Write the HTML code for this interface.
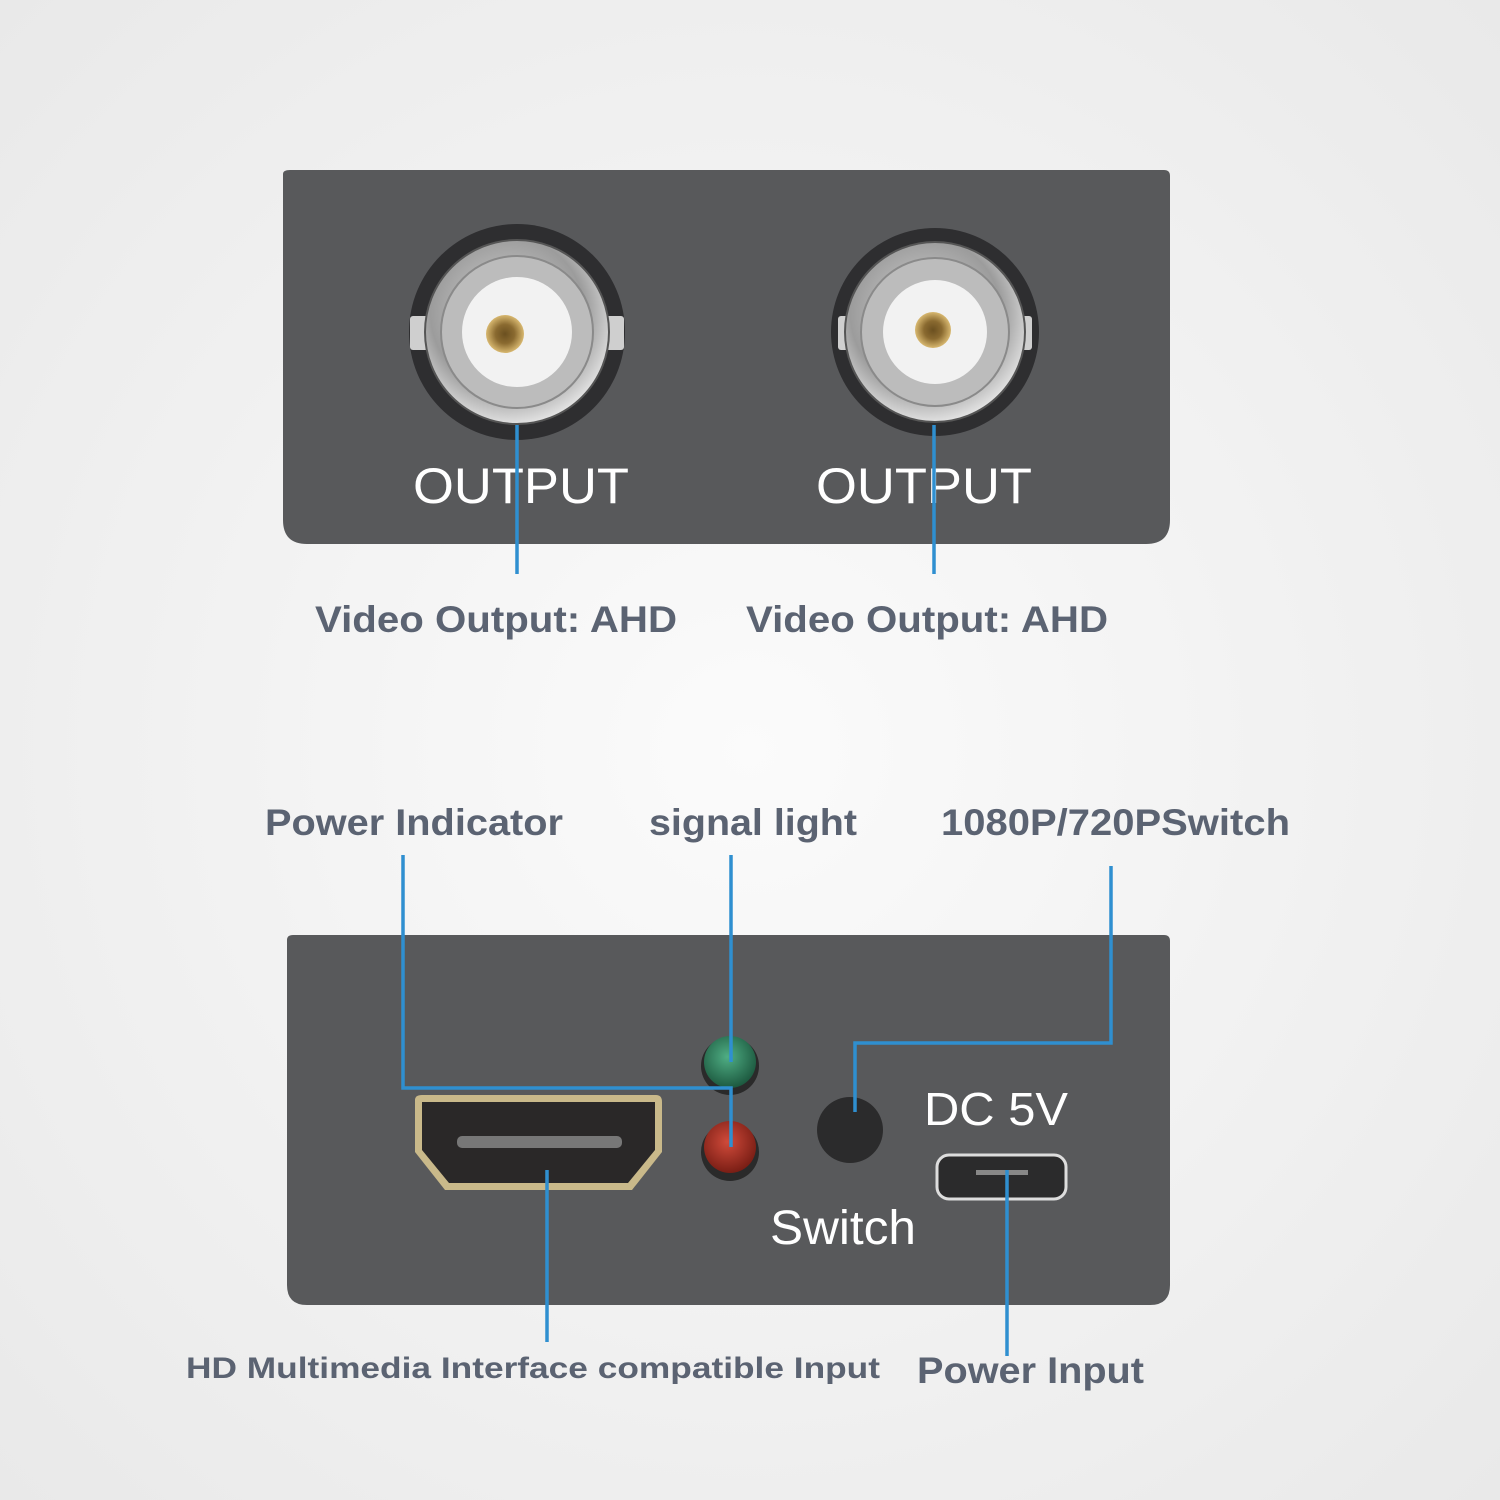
<!DOCTYPE html>
<html><head><meta charset="utf-8"><style>
html,body{margin:0;padding:0;width:1500px;height:1500px;overflow:hidden}
</style></head><body>
<svg width="1500" height="1500" viewBox="0 0 1500 1500" xmlns="http://www.w3.org/2000/svg" font-family="Liberation Sans, sans-serif">
<defs>
<radialGradient id="bg" cx="50%" cy="50%" r="70%"><stop offset="0" stop-color="#fbfbfb"/><stop offset="1" stop-color="#e9e9e9"/></radialGradient>
<radialGradient id="metal" cx="45%" cy="40%" r="60%"><stop offset="0" stop-color="#d8d8d8"/><stop offset="0.7" stop-color="#9c9c9c"/><stop offset="1" stop-color="#e0e0e0"/></radialGradient>
<radialGradient id="gold" cx="50%" cy="50%" r="50%"><stop offset="0" stop-color="#6b5020"/><stop offset="0.5" stop-color="#8a6a30"/><stop offset="1" stop-color="#d8b870"/></radialGradient>
<radialGradient id="grn" cx="45%" cy="40%" r="60%"><stop offset="0" stop-color="#4fae84"/><stop offset="1" stop-color="#1d5a40"/></radialGradient>
<radialGradient id="red" cx="45%" cy="40%" r="60%"><stop offset="0" stop-color="#d04a3a"/><stop offset="1" stop-color="#7a1e15"/></radialGradient>
</defs>
<rect width="1500" height="1500" fill="url(#bg)"/>
<path d="M283 174 Q283 170 290 170 L1164 170 Q1170 170 1170 176 L1170 520 Q1170 544 1146 544 L307 544 Q283 544 283 520 Z" fill="#58595b"/>
<g>
<circle cx="517" cy="332" r="108" fill="#2e2e30"/>
<rect x="410" y="316" width="214" height="34" rx="3" fill="#cfcfcf"/>
<circle cx="517" cy="332" r="92" fill="url(#metal)" stroke="#555" stroke-width="2"/>
<circle cx="517" cy="332" r="76" fill="#bcbcbc" stroke="#8a8a8a" stroke-width="2"/>
<circle cx="517" cy="332" r="55" fill="#f2f2f2"/>
<circle cx="505" cy="334" r="19" fill="url(#gold)"/>
</g>
<g>
<circle cx="935" cy="332" r="104" fill="#2e2e30"/>
<rect x="838" y="316" width="194" height="34" rx="3" fill="#cfcfcf"/>
<circle cx="935" cy="332" r="90" fill="url(#metal)" stroke="#555" stroke-width="2"/>
<circle cx="935" cy="332" r="74" fill="#bcbcbc" stroke="#8a8a8a" stroke-width="2"/>
<circle cx="935" cy="332" r="52" fill="#f2f2f2"/>
<circle cx="933" cy="330" r="18" fill="url(#gold)"/>
</g>
<text x="413" y="503" font-size="50" fill="#fff" textLength="216" lengthAdjust="spacingAndGlyphs">OUTPUT</text>
<text x="816" y="503" font-size="50" fill="#fff" textLength="216" lengthAdjust="spacingAndGlyphs">OUTPUT</text>
<g stroke="#2f8fd0" stroke-width="3.5" fill="none">
<line x1="517" y1="425" x2="517" y2="574"/>
<line x1="934" y1="425" x2="934" y2="574"/>
</g>
<g font-weight="bold" fill="#5b6372" font-size="37" lengthAdjust="spacingAndGlyphs">
<text x="315" y="632" textLength="362" lengthAdjust="spacingAndGlyphs">Video Output: AHD</text>
<text x="746" y="632" textLength="362" lengthAdjust="spacingAndGlyphs">Video Output: AHD</text>
<text x="265" y="835" textLength="298" lengthAdjust="spacingAndGlyphs">Power Indicator</text>
<text x="649" y="835" textLength="208" lengthAdjust="spacingAndGlyphs">signal light</text>
<text x="941" y="835" textLength="349" lengthAdjust="spacingAndGlyphs">1080P/720PSwitch</text>
<text x="186" y="1378" font-size="30" textLength="694" lengthAdjust="spacingAndGlyphs">HD Multimedia Interface compatible Input</text>
<text x="917" y="1383" textLength="227" lengthAdjust="spacingAndGlyphs">Power Input</text>
</g>
<path d="M287 940 Q287 935 293 935 L1164 935 Q1170 935 1170 941 L1170 1285 Q1170 1305 1150 1305 L307 1305 Q287 1305 287 1285 Z" fill="#58595b"/>
<path d="M415 1100 Q415 1095 422 1095 L656 1095 Q662 1095 662 1102 L662 1152 L632 1190 L445 1190 L415 1152 Z" fill="#c9b98a"/>
<path d="M422 1102 L655 1102 L655 1150 L628 1183 L449 1183 L422 1150 Z" fill="#2a2828"/>
<rect x="457" y="1136" width="165" height="12" rx="5" fill="#777"/>
<circle cx="730" cy="1066" r="29" fill="#2a2a2a"/>
<circle cx="730" cy="1062" r="26" fill="url(#grn)"/>
<circle cx="730" cy="1152" r="29" fill="#2a2a2a"/>
<circle cx="730" cy="1147" r="26" fill="url(#red)"/>
<circle cx="850" cy="1130" r="33" fill="#2b2b2c"/>
<rect x="937" y="1155" width="129" height="44" rx="12" fill="#2b2b2c" stroke="#ddd" stroke-width="3"/>
<rect x="976" y="1170" width="52" height="5" fill="#888"/>
<text x="924" y="1125" font-size="46" fill="#fff" textLength="144" lengthAdjust="spacingAndGlyphs">DC 5V</text>
<text x="770" y="1244" font-size="48" fill="#fff" textLength="146" lengthAdjust="spacingAndGlyphs">Switch</text>
<g stroke="#2f8fd0" stroke-width="3.5" fill="none">
<polyline points="403,855 403,1088 731,1088 731,1147"/>
<line x1="731" y1="855" x2="731" y2="1062"/>
<polyline points="1111,866 1111,1043 855,1043 855,1112"/>
<line x1="547" y1="1170" x2="547" y2="1342"/>
<line x1="1007" y1="1170" x2="1007" y2="1356"/>
</g>
</svg>
</body></html>
